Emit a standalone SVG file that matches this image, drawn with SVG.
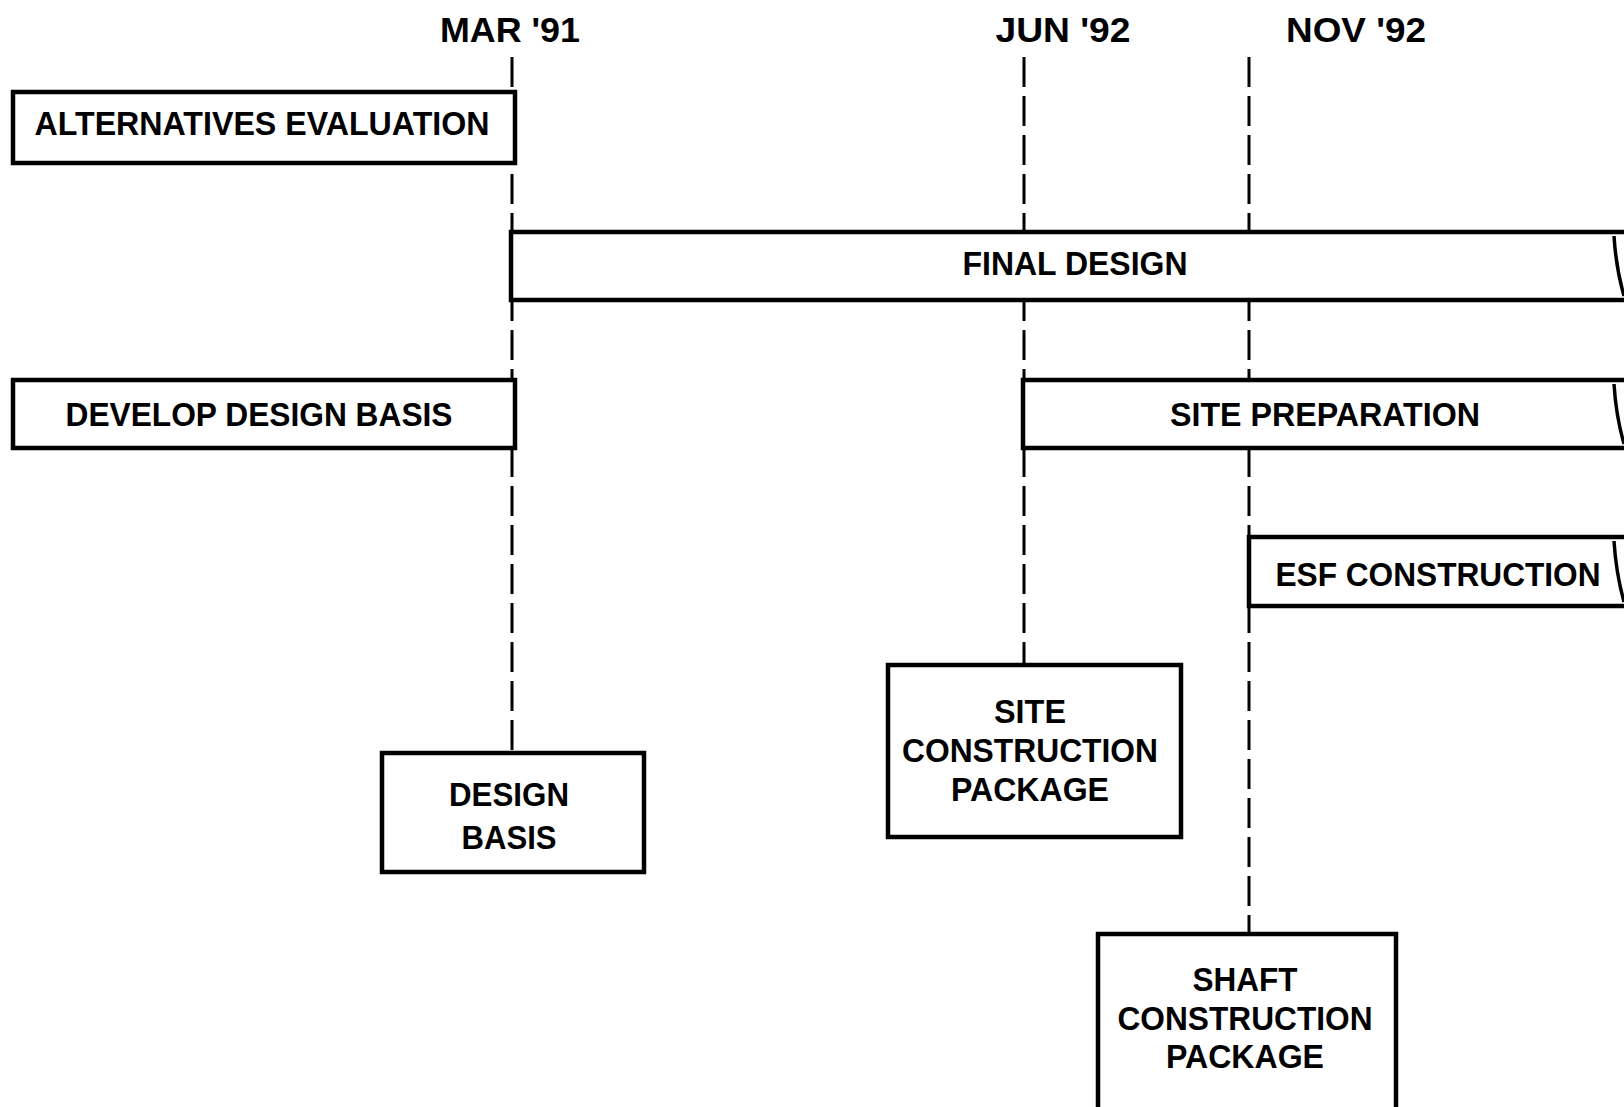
<svg xmlns="http://www.w3.org/2000/svg" width="1624" height="1107" viewBox="0 0 1624 1107">
<style>
.bg{fill:#ffffff}
.box{fill:#ffffff;stroke:#000000;stroke-width:4.5}
.dash{stroke:#000000;stroke-width:3;stroke-dasharray:30 9;fill:none}
.edge{stroke:#000000;stroke-width:3.5;fill:none}
text{font-family:"Liberation Sans","Arial",sans-serif;font-weight:bold;fill:#000000;text-anchor:middle}
.hd{font-size:35px}
.lb{font-size:33px}
</style>
<rect class="bg" x="0" y="0" width="1624" height="1107"/>
<g id="connectors">
<line class="dash" x1="512" y1="57" x2="512" y2="753"/>
<line class="dash" x1="1024" y1="57" x2="1024" y2="665"/>
<line class="dash" x1="1249" y1="57" x2="1249" y2="934"/>
</g>
<g id="headers">
<text class="hd" x="510" y="42" textLength="140" lengthAdjust="spacingAndGlyphs">MAR '91</text>
<text class="hd" x="1063" y="42" textLength="135" lengthAdjust="spacingAndGlyphs">JUN '92</text>
<text class="hd" x="1356" y="42" textLength="140" lengthAdjust="spacingAndGlyphs">NOV '92</text>
</g>
<g id="alternatives-evaluation">
<rect class="box" x="13" y="92" width="502" height="71"/>
<text class="lb" x="262" y="135" textLength="455" lengthAdjust="spacingAndGlyphs">ALTERNATIVES EVALUATION</text>
</g>
<g id="final-design">
<rect class="box" x="511" y="232" width="1125" height="68"/>
<path class="edge" d="M1614,236 Q1616,268 1624,296"/>
<text class="lb" x="1075" y="275" textLength="225" lengthAdjust="spacingAndGlyphs">FINAL DESIGN</text>
</g>
<g id="develop-design-basis">
<rect class="box" x="13" y="380" width="502" height="68"/>
<text class="lb" x="259" y="426" textLength="387" lengthAdjust="spacingAndGlyphs">DEVELOP DESIGN BASIS</text>
</g>
<g id="site-preparation">
<rect class="box" x="1023" y="380" width="613" height="68"/>
<path class="edge" d="M1614,384 Q1616,416 1624,444"/>
<text class="lb" x="1325" y="426" textLength="310" lengthAdjust="spacingAndGlyphs">SITE PREPARATION</text>
</g>
<g id="esf-construction">
<rect class="box" x="1249" y="537" width="387" height="69"/>
<path class="edge" d="M1614,541 Q1616,573 1624,602"/>
<text class="lb" x="1438" y="586" textLength="325" lengthAdjust="spacingAndGlyphs">ESF CONSTRUCTION</text>
</g>
<g id="site-construction-package">
<rect class="box" x="888" y="665" width="293" height="172"/>
<text class="lb" x="1030" y="723" textLength="72" lengthAdjust="spacingAndGlyphs">SITE</text>
<text class="lb" x="1030" y="762" textLength="256" lengthAdjust="spacingAndGlyphs">CONSTRUCTION</text>
<text class="lb" x="1030" y="801" textLength="158" lengthAdjust="spacingAndGlyphs">PACKAGE</text>
</g>
<g id="design-basis">
<rect class="box" x="382" y="753" width="262" height="119"/>
<text class="lb" x="509" y="806" textLength="120" lengthAdjust="spacingAndGlyphs">DESIGN</text>
<text class="lb" x="509" y="849" textLength="95" lengthAdjust="spacingAndGlyphs">BASIS</text>
</g>
<g id="shaft-construction-package">
<rect class="box" x="1098" y="934" width="298" height="180"/>
<text class="lb" x="1245" y="991" textLength="105" lengthAdjust="spacingAndGlyphs">SHAFT</text>
<text class="lb" x="1245" y="1030" textLength="255" lengthAdjust="spacingAndGlyphs">CONSTRUCTION</text>
<text class="lb" x="1245" y="1068" textLength="158" lengthAdjust="spacingAndGlyphs">PACKAGE</text>
</g>
</svg>
